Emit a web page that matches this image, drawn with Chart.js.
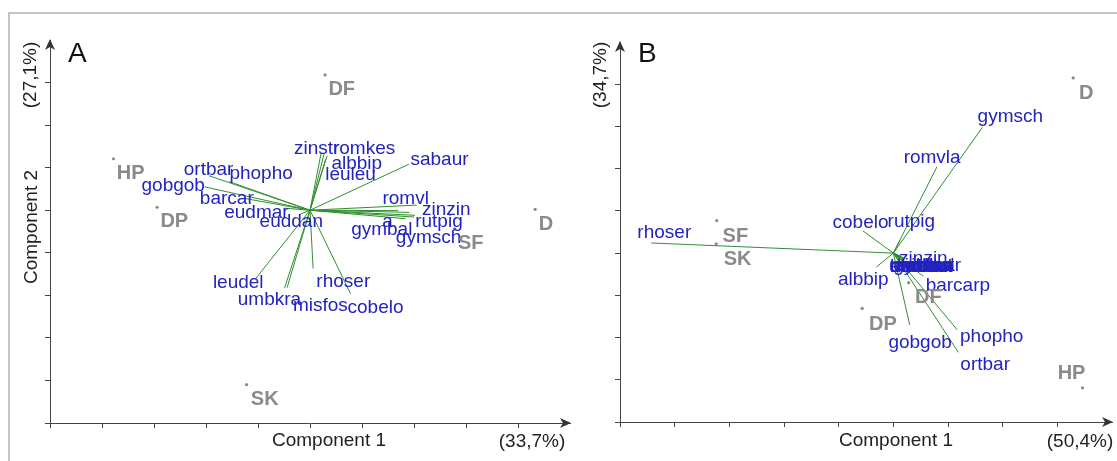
<!DOCTYPE html>
<html>
<head>
<meta charset="utf-8">
<title>Biplots A and B</title>
<script src="https://cdn.jsdelivr.net/npm/chart.js@4/dist/chart.umd.min.js"></script>
<style>
  html, body { margin: 0; padding: 0; background: #fff; }
  #frame { position: absolute; left: 8px; top: 12px; width: 1120px; height: 460px;
           border-top: 2px solid #c6c6c6; border-left: 2px solid #c6c6c6; }
  #chartA { position: absolute; left: 0; top: 0; }
  #chartB { position: absolute; left: 580px; top: 0; }
</style>
</head>
<body>
<div id="frame"></div>
<canvas id="chartA" width="580" height="461"></canvas>
<canvas id="chartB" width="537" height="461"></canvas>
<script>
// ---- Panel A: sites (component scores) ----
const sitesA = ['DF', 'HP', 'DP', 'D', 'SF', 'SK'];
const siteAX = [0.29, -3.78, -2.94, 4.33, 2.78, -1.22];
const siteAY = [3.18, 1.21, 0.07, 0.02, -0.44, -4.10];
const siteALabX = [0.61, -3.45, -2.61, 4.54, 3.09, -0.87];
const siteALabY = [2.83, 0.86, -0.26, -0.33, -0.79, -4.44];

// ---- Panel A: species (loadings) ----
const speciesA = ['zinstr', 'romkes', 'albbip', 'leuleu', 'sabaur', 'ortbar', 'phopho', 'gobgob',
                  'barcar', 'eudmar', 'euddan', 'romvl', 'zinzin', 'a', 'rutpig', 'gymbal',
                  'gymsch', 'leudel', 'umbkra', 'misfos', 'rhoser', 'cobelo'];
const vecAX = [0.21, 0.27, 0.33, 0.30, 1.90, -1.94, -1.55, -2.03,
               -1.27, -0.50, -0.20, 2.05, 1.91, 1.70, 2.02, 1.84,
               2.00, -1.04, -0.49, -0.44, 0.06, 0.78];
const vecAY = [1.32, 1.32, 1.28, 1.20, 1.08, 0.81, 0.67, 0.55,
               0.28, 0.05, -0.10, 0.12, -0.05, -0.01, -0.12, -0.20,
               -0.16, -1.60, -1.83, -1.82, -1.37, -1.96];
const labAX = [0.13, 1.04, 0.90, 0.78, 2.49, -1.95, -0.94, -2.63,
               -1.60, -1.03, -0.36, 1.84, 2.62, 1.49, 2.48, 1.38,
               2.28, -1.38, -0.78, 0.20, 0.64, 1.26];
const labAY = [1.45, 1.45, 1.10, 0.84, 1.19, 0.96, 0.86, 0.58,
               0.26, -0.07, -0.28, 0.28, 0.02, -0.28, -0.28, -0.47,
               -0.65, -1.71, -2.10, -2.24, -1.68, -2.29];

// ---- Panel B: sites ----
const sitesB = ['D', 'SF', 'SK', 'DF', 'DP', 'HP'];
const siteBX = [3.29, -3.23, -3.24, 0.28, -0.57, 3.46];
const siteBY = [4.15, 0.77, 0.22, -0.70, -1.31, -3.19];
const siteBLabX = [3.53, -2.89, -2.85, 0.64, -0.19, 3.26];
const siteBLabY = [3.79, 0.40, -0.16, -1.06, -1.69, -2.85];

// ---- Panel B: species ----
const speciesB = ['rhoser', 'gymsch', 'romvla', 'cobelo', 'rutpig', 'albbip', 'gobgob', 'phopho', 'ortbar',
                  'barcar', 'zinstr', 'romkes', 'leuleu', 'euddan', 'umbkra', 'misfos', 'gymbal',
                  'sabaur', 'leudel', 'eudmar', 'zinzin', 'barcarp'];
const vecBX = [-4.43, 1.63, 0.80, -0.56, 0.12, -0.31, 0.30, 1.17, 1.19,
               0.10, 0.10, 0.12, 0.14, 0.08, 0.10, 0.14, 0.12,
               0.16, 0.18, 0.20, 0.15, 0.55];
const vecBY = [0.24, 2.98, 2.05, 0.53, 0.30, -0.33, -1.70, -1.82, -2.35,
               -0.14, -0.10, -0.12, -0.10, -0.10, -0.12, -0.16, -0.14,
               -0.12, -0.14, -0.12, -0.08, -0.55];
const labBX = [-4.19, 2.14, 0.71, -0.60, 0.33, -0.55, 0.49, 1.80, 1.68,
               0.43, 0.45, 0.50, 0.53, 0.52, 0.50, 0.54, 0.56,
               0.58, 0.61, 0.65, 0.55, 1.18];
const labBY = [0.49, 3.22, 2.26, 0.71, 0.75, -0.63, -2.13, -1.98, -2.64,
               -0.33, -0.31, -0.30, -0.32, -0.33, -0.33, -0.31, -0.29,
               -0.30, -0.32, -0.31, -0.14, -0.78];

const GREEN = '#2f8f2f';
const BLUE = '#2323c0';
const GREY = '#8a8a8a';
const AXIS = '#444';
const FONT = '"Liberation Sans", Arial, sans-serif';

// one line dataset per loading vector, from the origin to its tip
function vectorDatasets(vx, vy) {
    return vx.map((x, i) => ({
        type: 'line',
        data: [{ x: 0, y: 0 }, { x: x, y: vy[i] }],
        borderColor: GREEN,
        borderWidth: 1,
        pointRadius: 0,
        fill: false
    }));
}

function axisOptions(min, max) {
    return {
        type: 'linear',
        min: min,
        max: max,
        ticks: { display: false, stepSize: 1 },
        grid: { drawOnChartArea: false, drawTicks: true, tickLength: 5, color: AXIS, lineWidth: 1 },
        border: { display: true, color: AXIS, width: 1 },
        // last tick is replaced by the arrow head
        afterBuildTicks: s => { s.ticks = s.ticks.filter(t => t.value < s.max); }
    };
}

// text, arrow heads and axis captions
function biplotPlugin(p) {
    return {
        id: 'biplot' + p.letter,
        afterDraw(chart) {
            const { ctx, chartArea: a, scales: { x, y } } = chart;
            ctx.save();

            // arrow heads
            ctx.fillStyle = '#333';
            ctx.beginPath();
            ctx.moveTo(a.right + 1, a.bottom);
            ctx.lineTo(a.right - 10, a.bottom - 5);
            ctx.lineTo(a.right - 7, a.bottom);
            ctx.lineTo(a.right - 10, a.bottom + 5);
            ctx.closePath();
            ctx.fill();
            ctx.beginPath();
            ctx.moveTo(a.left, a.top - 1);
            ctx.lineTo(a.left - 5, a.top + 10);
            ctx.lineTo(a.left, a.top + 7);
            ctx.lineTo(a.left + 5, a.top + 10);
            ctx.closePath();
            ctx.fill();

            // species labels
            ctx.textAlign = 'center';
            ctx.textBaseline = 'middle';
            ctx.font = '19px ' + FONT;
            ctx.fillStyle = BLUE;
            p.species.forEach((n, i) => {
                ctx.fillText(n, x.getPixelForValue(p.lx[i]), y.getPixelForValue(p.ly[i]));
            });

            // site labels
            ctx.font = 'bold 20px ' + FONT;
            ctx.fillStyle = GREY;
            p.sites.forEach((n, i) => {
                ctx.fillText(n, x.getPixelForValue(p.slx[i]), y.getPixelForValue(p.sly[i]));
            });

            // panel letter
            ctx.fillStyle = '#111';
            ctx.textAlign = 'left';
            ctx.textBaseline = 'alphabetic';
            ctx.font = '28px ' + FONT;
            ctx.fillText(p.letter, a.left + 18, 62);

            // axis captions
            ctx.fillStyle = '#222';
            ctx.font = '19px ' + FONT;
            ctx.textAlign = 'center';
            ctx.textBaseline = 'middle';
            ctx.fillText('Component 1', p.xTitleX, 441);
            ctx.fillText(p.xPct, p.xPctX, 442);
            const rot = (txt, cx, cy) => {
                ctx.save();
                ctx.translate(cx, cy);
                ctx.rotate(-Math.PI / 2);
                ctx.fillText(txt, 0, 0);
                ctx.restore();
            };
            rot(p.yPct, a.left - 19, 75);
            if (p.yTitle) rot(p.yTitle, a.left - 18, 227);

            ctx.restore();
        }
    };
}

function makeChart(id, cfg) {
    const sitePoints = cfg.sx.map((v, i) => ({ x: v, y: cfg.sy[i] }));
    return new Chart(document.getElementById(id), {
        type: 'scatter',
        data: {
            datasets: vectorDatasets(cfg.vx, cfg.vy).concat([{
                type: 'scatter',
                data: sitePoints,
                pointRadius: 1.6,
                pointBackgroundColor: GREY,
                pointBorderWidth: 0
            }])
        },
        options: {
            responsive: false,
            animation: false,
            events: [],
            layout: { padding: cfg.padding },
            plugins: { legend: { display: false }, tooltip: { enabled: false } },
            scales: { x: axisOptions(cfg.xmin, cfg.xmax), y: axisOptions(cfg.ymin, cfg.ymax) }
        },
        plugins: [biplotPlugin(cfg.text)]
    });
}

makeChart('chartA', {
    sx: siteAX, sy: siteAY, vx: vecAX, vy: vecAY,
    xmin: -5, xmax: 5, ymin: -5, ymax: 4,
    padding: { left: 45, right: 10, top: 40, bottom: 33 },
    text: { letter: 'A', species: speciesA, lx: labAX, ly: labAY,
            sites: sitesA, slx: siteALabX, sly: siteALabY,
            xTitleX: 329, xPct: '(33,7%)', xPctX: 532, yPct: '(27,1%)', yTitle: 'Component 2' }
});

makeChart('chartB', {
    sx: siteBX, sy: siteBY, vx: vecBX, vy: vecBY,
    xmin: -5, xmax: 4, ymin: -4, ymax: 5,
    padding: { left: 35, right: 5, top: 42, bottom: 34 },
    text: { letter: 'B', species: speciesB, lx: labBX, ly: labBY,
            sites: sitesB, slx: siteBLabX, sly: siteBLabY,
            xTitleX: 316, xPct: '(50,4%)', xPctX: 500, yPct: '(34,7%)', yTitle: null }
});
</script>
</body>
</html>
